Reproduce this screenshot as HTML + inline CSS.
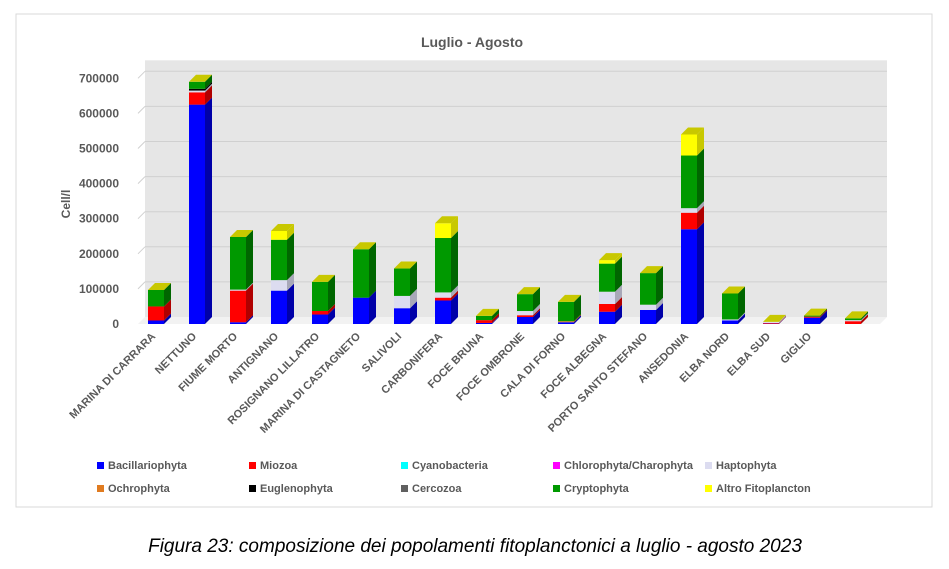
<!DOCTYPE html>
<html><head><meta charset="utf-8"><style>
body{margin:0;background:#fff;width:949px;height:564px;overflow:hidden;font-family:"Liberation Sans",sans-serif}
</style></head><body>
<svg id="c" width="949" height="564" xmlns="http://www.w3.org/2000/svg">
<rect x="16" y="14" width="916" height="493" fill="#fff" stroke="#d9d9d9"/>
<text x="472" y="47" text-anchor="middle" font-size="14" font-weight="bold" fill="#595959">Luglio - Agosto</text>
<text transform="translate(70,204) rotate(-90)" text-anchor="middle" font-size="12" font-weight="bold" fill="#595959">Cell/l</text>
<g id="g"></g>
<text x="475" y="552" text-anchor="middle" font-size="19" font-style="italic" fill="#000">Figura 23: composizione dei popolamenti fitoplanctonici a luglio - agosto 2023</text>
</svg>
<script>
const categories=["MARINA DI CARRARA","NETTUNO","FIUME MORTO","ANTIGNANO","ROSIGNANO LILLATRO","MARINA DI CASTAGNETO","SALIVOLI","CARBONIFERA","FOCE BRUNA","FOCE OMBRONE","CALA DI FORNO","FOCE ALBEGNA","PORTO SANTO STEFANO","ANSEDONIA","ELBA NORD","ELBA SUD","GIGLIO",""];
const seriesNames=["Bacillariophyta","Miozoa","Cyanobacteria","Chlorophyta/Charophyta","Haptophyta","Ochrophyta","Euglenophyta","Cercozoa","Cryptophyta","Altro Fitoplancton"];
const bacillariophyta=[10000,625000,5000,95000,27000,75000,45000,67000,3000,20000,5000,35000,40000,270000,10000,1000,18000,0];
const miozoa=[40000,35000,90000,0,10000,0,0,8000,8000,5000,0,22000,0,47000,0,2000,3000,8000];
const cyanobacteria=[0,0,0,0,0,0,0,0,0,0,0,0,0,0,0,0,0,0];
const chlorophyta=[0,0,0,0,0,0,0,0,0,0,0,0,0,0,0,0,0,0];
const haptophyta=[0,5000,3000,30000,0,0,35000,15000,0,12000,0,35000,15000,13000,3000,3000,0,3000];
const ochrophyta=[0,0,0,0,0,0,0,0,0,0,3000,0,0,0,0,0,0,0];
const euglenophyta=[0,5000,0,0,0,0,0,0,0,0,0,0,0,0,0,0,0,0];
const cercozoa=[0,0,0,0,0,0,0,0,0,0,0,0,0,0,0,0,0,0];
const cryptophyta=[47000,20000,150000,115000,83000,138000,78000,155000,12000,48000,55000,80000,90000,150000,74000,0,3000,5000];
const altro=[0,0,0,25000,0,0,0,42000,0,0,0,10000,0,60000,0,0,0,0];
const yTicks=[0,100000,200000,300000,400000,500000,600000,700000];
const series=[bacillariophyta,miozoa,cyanobacteria,chlorophyta,haptophyta,ochrophyta,euglenophyta,cercozoa,cryptophyta,altro];
const colors=["#0000ff","#ff0000","#00ffff","#ff00ff","#dcdcf0","#e07b20","#000000","#606060","#009900","#ffff00"];
const sides=["#0000a8","#b00000","#00b0b0","#b000b0","#a8a8b8","#a05010","#000000","#404040","#006600","#c8c800"];
const NS="http://www.w3.org/2000/svg";
const g=document.getElementById('g');
const D=7, X0=145, X1=880, Y0=324, PX=35.1/100000;
function y(v){return Y0-v*PX;}
function xc(i){return 156+i*41;}
function mk(t,a){const e=document.createElementNS(NS,t);for(const k in a)e.setAttribute(k,a[k]);g.appendChild(e);return e;}
// back wall
const wall=mk('rect',{x:X0,y:y(700000)-D-11,width:X1-X0+D,height:Y0-D-(y(700000)-D-11),fill:"#e6e6e6"});


const floor=mk('polygon',{points:`${X0-D},${Y0} ${X1},${Y0} ${X1+D},${Y0-D} ${X0},${Y0-D}`,fill:"#f2f2f2"});


yTicks.forEach(t=>{
 if(t>0){const l=mk('line',{x1:X0,y1:y(t)-D,x2:X1+D,y2:y(t)-D,stroke:"#d0d0d0"});
 
 
 const l2=mk('line',{x1:X0-D,y1:y(t),x2:X0,y2:y(t)-D,stroke:"#d0d0d0"});
 
 }
 const tx=mk('text',{x:119,y:y(t)+4,"text-anchor":"end","font-size":12,"font-weight":"bold",fill:"#595959"});
 tx.textContent=t;
 
 
});
const W=16;
categories.forEach((c,i)=>{
 let acc=0;const x=xc(i)-W/2;
 series.forEach((s,k)=>{
  const v=s[i]; if(!v)return;
  const yt=y(acc+v), yb=y(acc); acc+=v;
  const r=mk('rect',{x:x,y:yt,width:W,height:yb-yt,fill:colors[k]});
  
  
  const sd=mk('polygon',{points:`${x+W},${yb} ${x+W+D},${yb-D} ${x+W+D},${yt-D} ${x+W},${yt}`,fill:sides[k]});
  
  
 });
 const yt=y(acc);
 const top=mk('polygon',{points:`${x},${yt} ${x+W},${yt} ${x+W+D},${yt-D} ${x+D},${yt-D}`,fill:"#c8c800"});
 
 
 if(c){const t=mk('text',{transform:`translate(${xc(i)},${Y0+13}) rotate(-45)`,"text-anchor":"end","font-size":11,"font-weight":"bold",fill:"#595959"});
 t.textContent=c;
 
 }
});
const lx=[97,249,401,553,705];
seriesNames.forEach((n,k)=>{
 const cx=lx[k%5], cy=k<5?467:490;
 const r=mk('rect',{x:cx,y:cy-5,width:7,height:7,fill:colors[k]});
 
 
 const t=mk('text',{x:cx+11,y:cy+2,"font-size":11,"font-weight":"bold",fill:"#595959"});
 t.textContent=n;
 
 
});
</script>
</body></html>
